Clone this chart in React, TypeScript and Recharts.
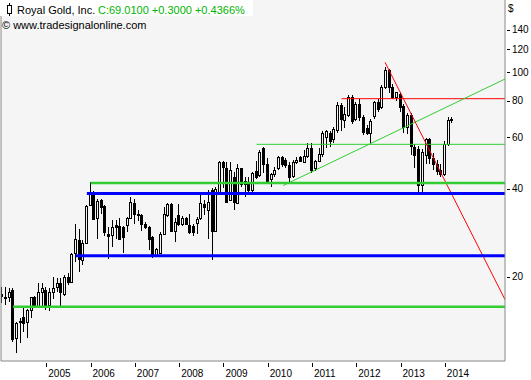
import { ComposedChart, Bar, XAxis, YAxis, CartesianGrid, ReferenceLine } from 'recharts';

// monthly candles, first one is Jan 2004
const START_YEAR = 2004;

const opens = [
  17.5, 17.1, 17.1, 18.0, 12.3, 14.1, 14.6, 14.0, 15.4, 17.1, 15.9, 17.8,
  18.0, 16.0, 17.7, 18.5, 19.0, 17.4, 20.0, 19.2, 24.1, 26.8, 22.9, 26.1,
  35.1, 38.7, 31.8, 36.7, 34.8, 28.0, 27.7, 30.0, 29.7, 29.5, 30.0, 31.8,
  35.8, 32.8, 32.5, 30.2, 29.5, 27.3, 23.7, 24.1, 28.0, 32.5, 35.5, 28.6,
  32.5, 30.2, 31.8, 30.0, 29.7, 30.5, 31.8, 35.5, 33.9, 39.7, 28.6, 39.0,
  49.2, 47.2, 36.7, 43.9, 35.8, 46.9, 42.4, 41.4, 39.7, 46.1, 44.6, 55.2,
  48.4, 43.1, 45.0, 46.9, 51.4, 50.3, 48.0, 44.3, 49.2, 51.4, 49.2, 51.8,
  55.2, 46.9, 49.6, 52.6, 59.9, 62.2, 58.9, 63.7, 77.0, 68.5, 71.6, 82.1,
  69.0, 77.6, 70.1, 64.5, 62.2, 70.6, 78.9, 75.8, 88.8, 101.5, 88.8, 82.1,
  84.0, 76.4, 65.2, 71.6, 55.4, 54.5, 41.3, 52.3, 58.9, 51.0, 48.4, 46.5,
  45.0, 56.7, 68.9,
];
const highs = [
  18.4, 18.5, 18.3, 18.3, 14.0, 14.5, 15.6, 15.5, 17.1, 17.2, 19.1, 19.0,
  18.5, 18.3, 20.0, 19.8, 19.8, 20.2, 20.6, 24.1, 30.3, 29.0, 26.8, 35.1,
  42.0, 39.3, 37.0, 37.0, 35.1, 29.5, 31.3, 31.3, 31.8, 29.7, 32.0, 37.6,
  37.0, 33.9, 32.8, 30.7, 29.7, 27.5, 25.1, 28.4, 34.5, 35.8, 35.8, 31.8,
  35.5, 32.2, 32.0, 32.8, 30.2, 32.0, 38.4, 36.7, 39.7, 40.3, 40.6, 49.6,
  49.6, 49.2, 49.2, 45.7, 48.4, 47.2, 44.0, 44.0, 45.7, 49.6, 54.4, 55.6,
  50.8, 45.3, 47.6, 51.8, 51.8, 50.8, 49.2, 50.3, 51.4, 51.8, 54.4, 57.1,
  57.1, 50.3, 55.2, 62.9, 63.3, 63.2, 65.2, 78.9, 78.2, 75.8, 83.4, 83.4,
  78.9, 80.8, 71.6, 66.0, 69.0, 79.5, 80.8, 90.2, 103.9, 102.3, 90.9, 85.9,
  85.3, 77.6, 72.8, 72.8, 57.0, 55.8, 54.5, 59.8, 59.8, 53.0, 50.3, 48.4,
  58.0, 70.1, 70.5,
];
const lows = [
  16.3, 16.0, 16.4, 12.0, 11.0, 11.9, 12.9, 12.3, 14.5, 15.6, 15.6, 15.6,
  15.4, 15.3, 16.8, 17.8, 15.9, 17.2, 18.8, 19.1, 22.5, 20.8, 21.9, 25.9,
  34.8, 31.3, 27.0, 32.8, 27.5, 23.0, 25.3, 27.0, 26.8, 24.1, 28.4, 31.8,
  30.2, 30.9, 28.6, 29.0, 24.7, 23.2, 23.4, 23.9, 27.7, 32.0, 28.4, 26.3,
  29.7, 29.7, 30.0, 28.0, 27.5, 28.0, 31.3, 32.5, 27.0, 22.9, 28.4, 38.7,
  40.3, 35.8, 36.3, 33.9, 35.5, 40.6, 37.6, 38.7, 39.0, 43.0, 43.9, 45.3,
  41.9, 40.6, 43.9, 46.5, 47.6, 47.2, 41.9, 43.5, 48.4, 49.2, 48.8, 50.8,
  45.3, 46.1, 49.2, 51.4, 55.2, 55.4, 57.5, 62.2, 63.2, 64.7, 70.1, 66.8,
  67.9, 67.9, 61.2, 60.8, 57.0, 69.0, 73.4, 74.6, 87.4, 84.6, 80.8, 79.5,
  73.4, 62.2, 61.7, 52.3, 47.2, 38.8, 39.1, 48.4, 48.4, 46.5, 44.7, 43.7,
  44.3, 55.8, 67.2,
];
const closes = [
  17.2, 17.0, 17.8, 12.2, 13.9, 14.0, 13.9, 15.4, 17.1, 15.9, 17.8, 18.3,
  16.0, 17.7, 18.3, 19.0, 17.7, 20.0, 19.2, 23.9, 27.0, 23.0, 26.1, 34.8,
  39.0, 31.6, 36.3, 34.5, 28.4, 27.5, 29.5, 29.5, 27.0, 27.3, 31.8, 36.1,
  32.8, 32.5, 30.2, 29.5, 27.0, 23.7, 24.9, 28.0, 32.7, 35.5, 28.6, 30.7,
  30.2, 31.8, 30.2, 28.4, 28.4, 31.6, 35.8, 34.5, 36.1, 28.6, 40.0, 49.2,
  47.6, 36.1, 46.5, 36.1, 46.9, 41.4, 41.4, 39.7, 45.3, 43.9, 53.4, 48.4,
  42.4, 45.0, 46.5, 51.4, 48.4, 48.0, 43.9, 49.2, 50.3, 49.6, 51.8, 55.2,
  46.5, 49.9, 52.6, 62.0, 62.9, 58.4, 64.2, 77.0, 69.0, 72.2, 82.1, 67.9,
  77.6, 70.1, 62.7, 62.2, 67.9, 78.9, 74.6, 88.8, 101.5, 88.8, 82.1, 85.3,
  75.8, 65.2, 71.6, 55.8, 52.3, 41.3, 53.2, 58.9, 51.0, 48.4, 45.8, 45.0,
  56.7, 68.71, 69.01,
];

const yearLabels = [2005, 2006, 2007, 2008, 2009, 2010, 2011, 2012, 2013, 2014];
const priceTicks = [20, 40, 60, 80, 100, 120, 140];

// drawn levels: start month index + price, they run to the right edge
const greenLevels = [{ from: 3, price: 15.8 }, { from: 24, price: 41.8 }];
const blueLevels = [{ from: 20, price: 23.6 }, { from: 23, price: 38.5 }];
const thinGreenLevels = [{ from: 69, price: 56.7 }];
const redLevels = [{ from: 92, price: 81.2 }];
// trend lines: [start, end] as month index + price
const redTrend = [{ t: 103.8, price: 108.1 }, { t: 136.3, price: 16.7 }];
const greenTrend = [{ t: 76.2, price: 41.0 }, { t: 136.3, price: 94.8 }];

const X_DOMAIN: [number, number] = [-0.27, 136.3];
const Y_DOMAIN: [number, number] = [10.3, 176.6];

const BG = '#f5f5f5';
const FRAME = '#888888';
const GREEN = '#32cd32';
const BLUE = '#0000ff';
const RED = '#ff0000';
const FONT = '"Liberation Sans", Arial, sans-serif';

const rows = opens.map((open, i) => ({
  t: i,
  open,
  high: highs[i],
  low: lows[i],
  close: closes[i],
}));

function Candle(props: any) {
  const { x, y, width, height, payload } = props;
  if (x == null || y == null || !payload) return null;
  const top = Math.min(y, y + height);
  const h = Math.abs(height);
  const { open, close, high, low } = payload;
  const lh = Math.log(high);
  const ll = Math.log(low);
  const yOf = (v: number) => (lh === ll ? top : top + (h * (lh - Math.log(v))) / (lh - ll));
  const cx = x + width / 2;
  const left = Math.round(cx - 1.5);
  const wx = left + 1.5;
  const yo = yOf(open);
  const yc = yOf(close);
  const bTop = Math.round(Math.min(yo, yc));
  const bBot = Math.round(Math.max(yo, yc));
  const up = close >= open;
  return (
    <g>
      <line x1={wx} x2={wx} y1={Math.round(top)} y2={Math.round(top + h)} stroke="#000" />
      <rect
        x={left + 0.5}
        y={bTop + 0.5}
        width={2}
        height={Math.max(bBot - bTop, 1)}
        fill={up ? BG : '#000'}
        stroke="#000"
      />
    </g>
  );
}

function YearTick({ x, y, payload }: any) {
  const px = Math.round(x) + 0.5;
  return (
    <g>
      <line x1={px} x2={px} y1={y + 2} y2={y + 6} stroke="#000" />
      <text x={x + 2} y={y + 16} fontSize={10} fontFamily={FONT} fill="#000" textAnchor="start">
        {START_YEAR + payload.value / 12}
      </text>
    </g>
  );
}

function PriceTick({ x, y, payload }: any) {
  const py = Math.round(y) + 0.5;
  return (
    <g>
      <line x1={x + 2} x2={x + 5} y1={py} y2={py} stroke="#000" />
      <text x={x + 7} y={y + 3.5} fontSize={10} fontFamily={FONT} fill="#000" textAnchor="start">
        {payload.value}
      </text>
    </g>
  );
}

function levelSegment(from: number, price: number) {
  return [
    { x: from, y: price },
    { x: X_DOMAIN[1], y: price },
  ];
}

export default function App() {
  return (
    <div style={{ position: 'absolute', left: 0, top: 0, width: 531, height: 380, background: '#fff' }}>
      <ComposedChart width={531} height={380} data={rows} margin={{ top: 0, right: 0, bottom: 0, left: 0 }}>
        <CartesianGrid horizontal={false} vertical={false} fill={BG} />
        <XAxis
          dataKey="t"
          type="number"
          domain={X_DOMAIN}
          allowDataOverflow
          ticks={yearLabels.map((yr) => (yr - START_YEAR) * 12)}
          interval={0}
          height={19}
          tickSize={0}
          tickMargin={0}
          tickLine={false}
          axisLine={{ stroke: FRAME }}
          tick={<YearTick />}
        />
        <YAxis
          orientation="right"
          scale="log"
          type="number"
          domain={Y_DOMAIN}
          allowDataOverflow
          ticks={priceTicks}
          interval={0}
          width={26}
          tickSize={0}
          tickMargin={0}
          tickLine={false}
          axisLine={{ stroke: FRAME }}
          tick={<PriceTick />}
        />
        <YAxis
          yAxisId="frame"
          orientation="left"
          type="number"
          domain={[0, 1]}
          width={1}
          tick={false}
          tickLine={false}
          axisLine={{ stroke: FRAME }}
        />
        <Bar
          dataKey={(d: any) => [d.low, d.high]}
          barSize={3}
          shape={<Candle />}
          isAnimationActive={false}
        />
        {thinGreenLevels.map((l, i) => (
          <ReferenceLine key={'tg' + i} segment={levelSegment(l.from, l.price)} stroke={GREEN} strokeWidth={1} ifOverflow="hidden" />
        ))}
        {redLevels.map((l, i) => (
          <ReferenceLine key={'r' + i} segment={levelSegment(l.from, l.price)} stroke={RED} strokeWidth={1} ifOverflow="hidden" />
        ))}
        <ReferenceLine
          segment={greenTrend.map((p) => ({ x: p.t, y: p.price }))}
          stroke={GREEN}
          strokeWidth={1}
          ifOverflow="hidden"
        />
        <ReferenceLine
          segment={redTrend.map((p) => ({ x: p.t, y: p.price }))}
          stroke={RED}
          strokeWidth={1}
          ifOverflow="hidden"
        />
        {greenLevels.map((l, i) => (
          <ReferenceLine key={'g' + i} segment={levelSegment(l.from, l.price)} stroke={GREEN} strokeWidth={2.5} ifOverflow="hidden" />
        ))}
        {blueLevels.map((l, i) => (
          <ReferenceLine key={'b' + i} segment={levelSegment(l.from, l.price)} stroke={BLUE} strokeWidth={3} ifOverflow="hidden" />
        ))}
      </ComposedChart>

      <div style={{ position: 'absolute', left: 0, top: 0, width: 253, height: 16, background: '#fff' }} />
      <svg style={{ position: 'absolute', left: 0, top: 0 }} width={16} height={18}>
        <line x1={9.5} x2={9.5} y1={3} y2={16} stroke="#000" />
        <rect x={7.5} y={5.5} width={4} height={8} fill="#fff" stroke="#000" />
      </svg>
      <div style={{ position: 'absolute', left: 17, top: 5, font: `11px ${FONT}`, lineHeight: '11px', color: '#000', whiteSpace: 'nowrap' }}>
        Royal Gold, Inc.
      </div>
      <div style={{ position: 'absolute', left: 98, top: 5, font: `11px ${FONT}`, lineHeight: '11px', color: '#00b400', whiteSpace: 'nowrap' }}>
        C:69.0100 +0.3000 +0.4366%
      </div>
      <div style={{ position: 'absolute', left: 2, top: 20, font: `11px ${FONT}`, lineHeight: '11px', color: '#000', whiteSpace: 'nowrap' }}>
        © www.tradesignalonline.com
      </div>
      <div style={{ position: 'absolute', left: 508, top: 4, font: `10px ${FONT}`, lineHeight: '10px', color: '#000' }}>
        $
      </div>
    </div>
  );
}
